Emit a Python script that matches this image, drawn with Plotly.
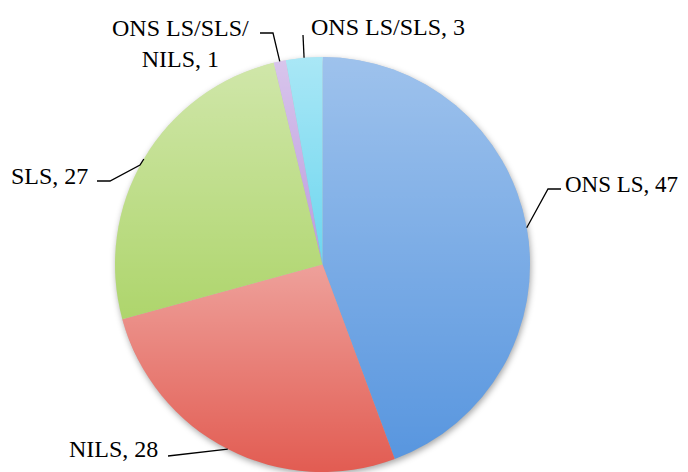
import math
import base64
import plotly.graph_objects as go

categories = ["ONS LS", "NILS", "SLS", "ONS LS/SLS/NILS", "ONS LS/SLS"]
values = [47, 28, 27, 1, 3]
label_text = ["ONS LS, 47", "NILS, 28", "SLS, 27", "ONS LS/SLS/<br>NILS, 1", "ONS LS/SLS, 3"]
colors = ["#5896DF", "#E25C52", "#AED56C", "#BC9BDE", "#6CD6EF"]

W, H = 672, 464
OFF = 8  # page body margin offset
CX, CY, R = 322.5, 264.5, 207.5

def px(x):
    return (x - OFF) / W

def py(y):
    return 1 - (y - OFF) / H

fig = go.Figure()
fig.add_trace(go.Pie(
    labels=categories, values=values, sort=False, direction="clockwise",
    rotation=0, textinfo="none", hoverinfo="label+value",
    marker=dict(colors=colors, line=dict(width=0)),
    domain=dict(x=[px(CX - R), px(CX + R)],
                y=[max(0.0, py(CY + R)), min(1.0, py(CY - R))]),
    showlegend=False,
))

total = sum(values)
cum = 0
edge = []
angles = []
for v in values:
    a0 = cum / total * 2 * math.pi
    a1 = (cum + v) / total * 2 * math.pi
    mid = (a0 + a1) / 2
    angles.append((a0, a1))
    edge.append((CX + R * math.sin(mid), CY - R * math.cos(mid)))
    cum += v

# per-slice vertical sheen (lighter at the top of each slice), as in the original
paths = []
for i, (a0, a1) in enumerate(angles):
    x0, y0 = R + R * math.sin(a0), R - R * math.cos(a0)
    x1, y1 = R + R * math.sin(a1), R - R * math.cos(a1)
    large = 1 if (a1 - a0) > math.pi else 0
    paths.append(
        f"<path d='M {R},{R} L {x0:.2f},{y0:.2f} A {R},{R} 0 {large} 1 {x1:.2f},{y1:.2f} Z' fill='url(#g)'/>"
    )
sheen = (
    f"<svg xmlns='http://www.w3.org/2000/svg' width='{2*R}' height='{2*R}' viewBox='0 0 {2*R} {2*R}' preserveAspectRatio='none'>"
    "<defs><linearGradient id='g' x1='0' y1='0' x2='0' y2='1'>"
    "<stop offset='0' stop-color='#ffffff' stop-opacity='0.42'/>"
    "<stop offset='1' stop-color='#ffffff' stop-opacity='0'/>"
    "</linearGradient></defs>" + "".join(paths) + "</svg>"
)
pad = 14
shadow = (
    f"<svg xmlns='http://www.w3.org/2000/svg' width='{2*R+2*pad}' height='{2*R+2*pad}' viewBox='0 0 {2*R+2*pad} {2*R+2*pad}' preserveAspectRatio='none'>"
    "<defs><filter id='b' x='-10%' y='-10%' width='120%' height='120%'><feGaussianBlur stdDeviation='3'/></filter></defs>"
    f"<circle cx='{R+pad+1}' cy='{R+pad+2.5}' r='{R}' fill='#000000' fill-opacity='0.35' filter='url(#b)'/></svg>"
)

def uri(s):
    return "data:image/svg+xml;base64," + base64.b64encode(s.encode()).decode()

images = [
    dict(source=uri(shadow), xref="paper", yref="paper",
         x=px(CX - R - pad), y=py(CY - R - pad), sizex=(2 * R + 2 * pad) / W,
         sizey=(2 * R + 2 * pad) / H, xanchor="left", yanchor="top",
         sizing="stretch", layer="below"),
    dict(source=uri(sheen), xref="paper", yref="paper",
         x=px(CX - R), y=py(CY - R), sizex=2 * R / W, sizey=2 * R / H,
         xanchor="left", yanchor="top", sizing="stretch", layer="above"),
]

# leader-line elbows (layout positions) and label anchors
elbows = [
    [(548, 189), (561, 189)],
    [(168, 456)],
    [(140, 165), (110, 181), (97, 181)],
    [(273, 33), (260, 33)],
    [(303, 35)],
]
anchors = [
    (680, 184, "right", 23),
    (160, 449, "right", 24),
    (90, 176, "right", 24),
    (180, 43, "center", 24),
    (309, 27, "left", 24),
]

shapes = []
for i in range(len(values)):
    pts = [edge[i]] + elbows[i]
    path = "M " + " L ".join(f"{px(x):.5f},{py(y):.5f}" for x, y in pts)
    shapes.append(dict(type="path", path=path, xref="paper", yref="paper",
                       line=dict(color="#000000", width=1.3)))

annotations = []
for i, (ax, ay, al, fs) in enumerate(anchors):
    annotations.append(dict(
        x=px(ax), y=py(ay), xref="paper", yref="paper", text=label_text[i],
        showarrow=False, xanchor=al, yanchor="middle", align="center",
        font=dict(family="Liberation Serif", size=fs, color="#000000"),
    ))

fig.update_layout(
    width=W, height=H, margin=dict(l=0, r=0, t=0, b=0),
    paper_bgcolor="white", plot_bgcolor="white",
    shapes=shapes, annotations=annotations, images=images,
)
fig.write_html("out.html")
